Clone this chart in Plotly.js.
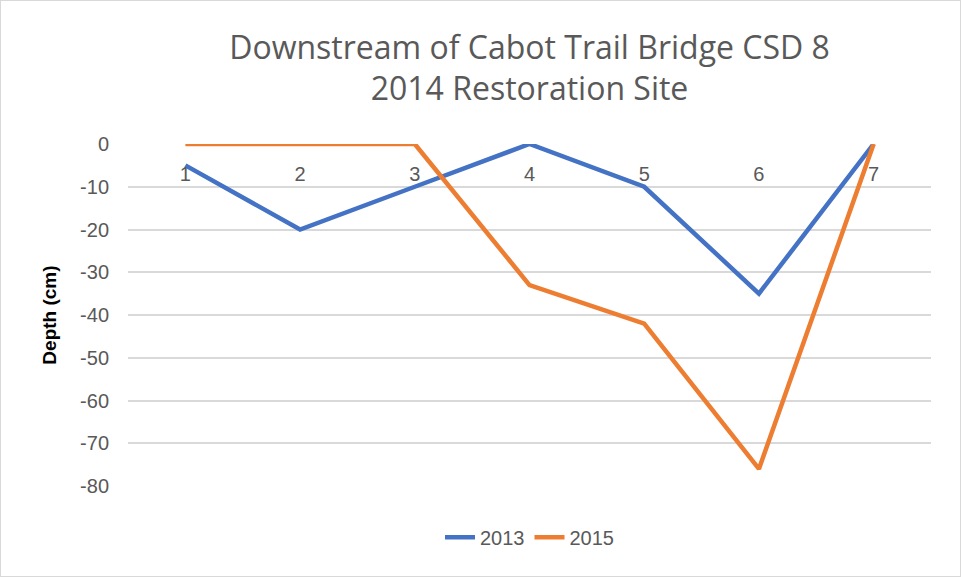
<!DOCTYPE html>
<html>
<head>
<meta charset="utf-8">
<script src="https://cdn.plot.ly/plotly-3.0.1.min.js"></script>
<style>
  body { margin: 0; background: #fff; }
  #chart { width: 959px; height: 575px; border: 1px solid #d9d9d9; }
</style>
</head>
<body>
<div id="chart"></div>
<script>
// sample points along the transect
var stations = ["1", "2", "3", "4", "5", "6", "7"];
var depth2013 = [-5, -20, -10, 0, -10, -35, 0];
var depth2015 = [0, 0, 0, -33, -42, -76, 0];
var yTicks = [0, -10, -20, -30, -40, -50, -60, -70, -80];
var yTickText = ["0", "-10", "-20", "-30", "-40", "-50", "-60", "-70", "-80"];

var trace2013 = {
  x: stations,
  y: depth2013,
  name: "2013",
  type: "scatter",
  mode: "lines",
  line: {color: "#4472C4", width: 4.5}
};
var trace2015 = {
  x: stations,
  y: depth2015,
  name: "2015",
  type: "scatter",
  mode: "lines",
  line: {color: "#ED7D31", width: 4.5}
};

var layout = {
  width: 959,
  height: 575,
  margin: {l: 127, r: 29, t: 143, b: 90},
  paper_bgcolor: "#fff",
  plot_bgcolor: "#fff",
  font: {family: "Liberation Sans, Arial, sans-serif", color: "#595959", size: 20},
  title: {
    text: "Downstream of Cabot Trail Bridge CSD 8<br>2014 Restoration Site",
    x: 0.5,
    xref: "paper",
    y: 0.9,
    yanchor: "top",
    font: {size: 32, color: "#595959", family: "Open Sans, sans-serif"}
  },
  xaxis: {
    type: "category",
    range: [-0.5, 6.5],
    anchor: "free",
    position: 1,
    side: "bottom",
    showgrid: false,
    showline: false,
    zeroline: false,
    ticks: "",
    ticklabelstandoff: 16,
    tickfont: {size: 20, color: "#595959"}
  },
  yaxis: {
    range: [-80, 0],
    tickvals: yTicks,
    ticktext: yTickText,
    showgrid: true,
    gridcolor: "#d9d9d9",
    gridwidth: 1.5,
    zeroline: false,
    showline: false,
    ticks: "",
    ticklabelstandoff: 18,
    tickfont: {size: 20, color: "#595959"},
    title: {text: "<b>Depth (cm)</b>", font: {size: 19, color: "#000"}, standoff: 18}
  },
  legend: {
    orientation: "h",
    x: 0.5,
    xanchor: "center",
    y: -0.15,
    yanchor: "middle",
    font: {size: 20, color: "#595959"}
  },
  showlegend: true
};

Plotly.newPlot("chart", [trace2013, trace2015], layout, {displayModeBar: false});
</script>
</body>
</html>
